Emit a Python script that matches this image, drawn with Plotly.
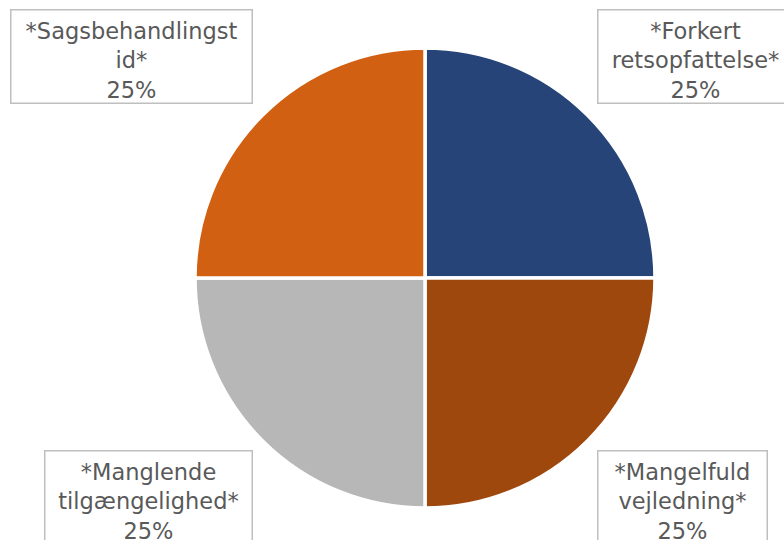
import plotly.graph_objects as go

categories = ["*Forkert retsopfattelse*", "*Mangelfuld vejledning*",
              "*Manglende tilgængelighed*", "*Sagsbehandlingstid*"]
label_lines = ["*Forkert<br>retsopfattelse*", "*Mangelfuld<br>vejledning*",
               "*Manglende<br>tilgængelighed*", "*Sagsbehandlingst<br>id*"]
values = [25, 25, 25, 25]

colors = ["#264478", "#9E480E", "#B7B7B7", "#D26012"]

W, H = 784, 540
fig = go.Figure(go.Pie(
    labels=categories, values=values, sort=False, direction="clockwise",
    rotation=0, textinfo="none", hoverinfo="label+percent",
    marker=dict(colors=colors, line=dict(color="white", width=3.5)),
    domain=dict(x=[195 / W, 655 / W], y=[1 - 508 / H, 1 - 48 / H]),
    showlegend=False,
))

total = sum(values)
# box centre (px) and size (px)
boxes = [(695, 57, 196, 94), (682, 497, 170, 94), (148, 497, 208, 94), (131, 57, 242, 94)]
for lbl, v, (cx, cy, bw, bh) in zip(label_lines, values, boxes):
    pct = round(100 * v / total)
    fig.add_annotation(
        x=cx / W, y=1 - cy / H, xref="paper", yref="paper",
        xanchor="center", yanchor="middle", showarrow=False,
        text=f"{lbl}<br>{pct}%", align="center", valign="bottom",
        font=dict(family="DejaVu Sans, Verdana", size=22.5, color="#595959"),
        width=bw - 2, height=bh - 2, borderpad=0,
        bordercolor="#BFBFBF", borderwidth=1.5, bgcolor="white",
    )

fig.update_layout(width=W, height=H, margin=dict(l=0, r=0, t=0, b=0),
                  paper_bgcolor="white", plot_bgcolor="white")
fig.write_html("out.html", config={"displayModeBar": False},
               post_script="document.body.style.margin='0';document.body.style.overflow='hidden';")
